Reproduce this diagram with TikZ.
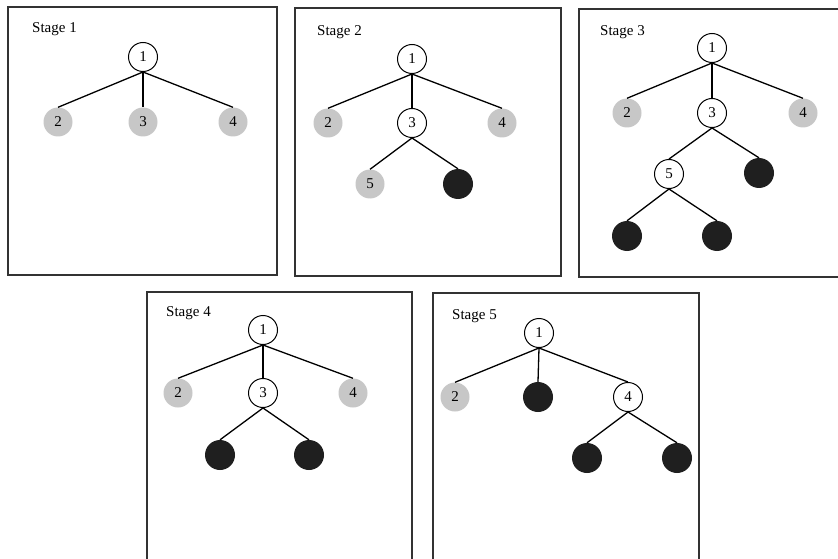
\documentclass[tikz,border=0pt]{standalone}
\usepackage{fontspec}
\setmainfont{Liberation Serif}
\begin{document}
\begin{tikzpicture}[x=1pt,y=-1pt,
  frame/.style={draw=black!80, line width=1.1pt},
  stagelbl/.style={anchor=west, inner sep=0pt, font=\fontsize{15}{15}\selectfont},
  opennode/.style={circle, draw=black, line width=1pt, fill=white, minimum size=29pt, inner sep=0pt, font=\fontsize{15}{15}\selectfont},
  greynode/.style={circle, fill=black!22, minimum size=29pt, inner sep=0pt, font=\fontsize{15}{15}\selectfont},
  fullnode/.style={circle, fill=black!88, minimum size=30pt, inner sep=0pt},
  edge/.style={draw=black, line width=1.3pt}]
\clip (0,0) rectangle (838,559);
\fill[white] (0,0) rectangle (838,559);
% Stage 1
\draw[frame] (8,7) rectangle (277,275);
\node[stagelbl] (l1) at (32,29) {Stage 1};
\node[opennode] (a1) at (143,57) {1};
\node[greynode] (a2) at (58,122) {2};
\node[greynode] (a3) at (143,122) {3};
\node[greynode] (a4) at (233,122) {4};
\draw[edge] (a1.south) -- (a2.north);
\draw[edge] (a1.south) -- (a3.north);
\draw[edge] (a1.south) -- (a4.north);
% Stage 2
\draw[frame] (295,8) rectangle (561,276);
\node[stagelbl] (l2) at (317,32) {Stage 2};
\node[opennode] (b1) at (412,59) {1};
\node[greynode] (b2) at (328,123) {2};
\node[opennode] (b3) at (412,123) {3};
\node[greynode] (b4) at (502,123) {4};
\node[greynode] (b5) at (370,184) {5};
\node[fullnode] (b6) at (458,184) {};
\draw[edge] (b1.south) -- (b2.north);
\draw[edge] (b1.south) -- (b3.north);
\draw[edge] (b1.south) -- (b4.north);
\draw[edge] (b3.south) -- (b5.north);
\draw[edge] (b3.south) -- (b6.north);
% Stage 3
\draw[frame] (579,9) rectangle (850,277);
\node[stagelbl] (l3) at (600,32) {Stage 3};
\node[opennode] (c1) at (712,48) {1};
\node[greynode] (c2) at (627,113) {2};
\node[opennode] (c3) at (712,113) {3};
\node[greynode] (c4) at (803,113) {4};
\node[opennode] (c5) at (669,174) {5};
\node[fullnode] (c6) at (759,173) {};
\node[fullnode] (c7) at (627,236) {};
\node[fullnode] (c8) at (717,236) {};
\draw[edge] (c1.south) -- (c2.north);
\draw[edge] (c1.south) -- (c3.north);
\draw[edge] (c1.south) -- (c4.north);
\draw[edge] (c3.south) -- (c5.north);
\draw[edge] (c3.south) -- (c6.north);
\draw[edge] (c5.south) -- (c7.north);
\draw[edge] (c5.south) -- (c8.north);
% Stage 4
\draw[frame] (147,292) rectangle (412,575);
\node[stagelbl] (l4) at (166,313) {Stage 4};
\node[opennode] (d1) at (263,330) {1};
\node[greynode] (d2) at (178,393) {2};
\node[opennode] (d3) at (263,393) {3};
\node[greynode] (d4) at (353,393) {4};
\node[fullnode] (d5) at (220,455) {};
\node[fullnode] (d6) at (309,455) {};
\draw[edge] (d1.south) -- (d2.north);
\draw[edge] (d1.south) -- (d3.north);
\draw[edge] (d1.south) -- (d4.north);
\draw[edge] (d3.south) -- (d5.north);
\draw[edge] (d3.south) -- (d6.north);
% Stage 5
\draw[frame] (433,293) rectangle (699,575);
\node[stagelbl] (l5) at (452,316) {Stage 5};
\node[opennode] (e1) at (539,333) {1};
\node[greynode] (e2) at (455,397) {2};
\node[fullnode] (e3) at (538,397) {};
\node[opennode] (e4) at (628,397) {4};
\node[fullnode] (e5) at (587,458) {};
\node[fullnode] (e6) at (677,458) {};
\draw[edge] (e1.south) -- (e2.north);
\draw[edge] (e1.south) -- (e3.north);
\draw[edge] (e1.south) -- (e4.north);
\draw[edge] (e4.south) -- (e5.north);
\draw[edge] (e4.south) -- (e6.north);
\end{tikzpicture}
\end{document}
